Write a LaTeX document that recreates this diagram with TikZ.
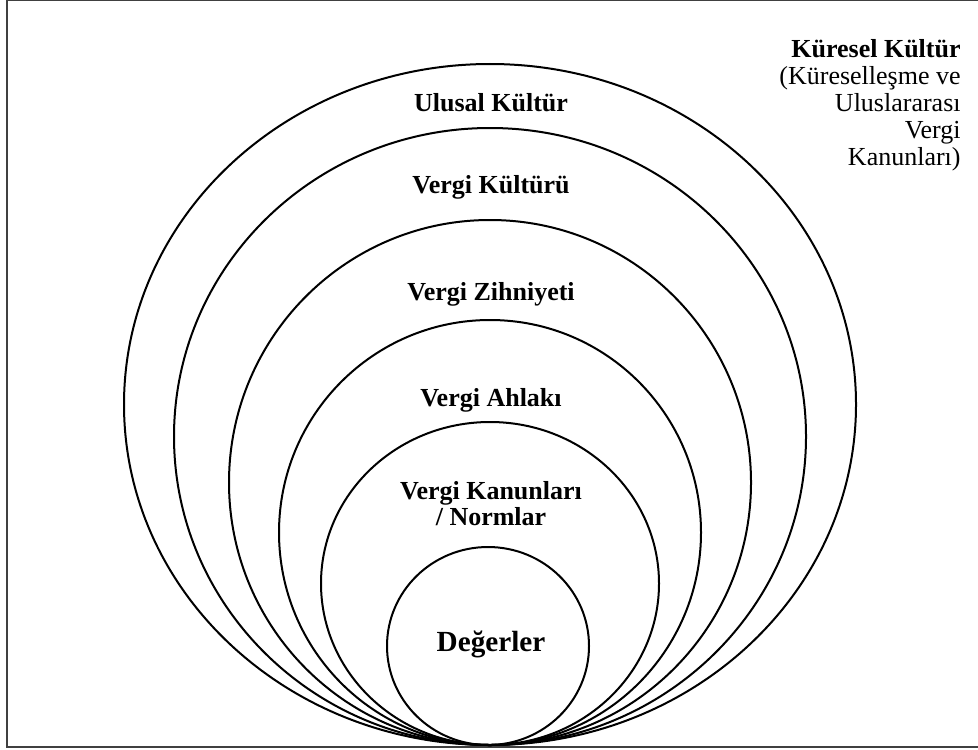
\documentclass[tikz,border=0pt]{standalone}
\usepackage{fontspec}
\setmainfont{Liberation Serif}
\begin{document}
\begin{tikzpicture}[x=0.5pt,y=-0.5pt,
  ring/.style={draw=black, line width=1pt},
  lbl/.style={font=\fontsize{13}{13.5}\selectfont\bfseries, inner sep=0pt, anchor=base, align=center},
  frameline/.style={draw=black!75, line width=0.7pt}]
\useasboundingbox (0,0) rectangle (978,749);
\draw[frameline] (978,0.6) -- (7,0.6) -- (7,747) -- (978,747);
% nested ellipses, all touching at the bottom
\draw[ring] (490,404.5) ellipse [x radius=366, y radius=340.5];
\draw[ring] (490,436.5) ellipse [x radius=316, y radius=308.5];
\draw[ring] (490,482.5) ellipse [x radius=261, y radius=262.5];
\draw[ring] (490,532.5) ellipse [x radius=211, y radius=212.5];
\draw[ring] (490,583.5) ellipse [x radius=169, y radius=161.5];
\draw[ring] (488,646) ellipse [x radius=101, y radius=99];
% labels
\node[lbl] (ulusal) at (491,112) {Ulusal Kültür};
\node[lbl] (vkultur) at (491,193) {Vergi Kültürü};
\node[lbl] (zihniyet) at (491,300) {Vergi Zihniyeti};
\node[lbl] (ahlak) at (491,406) {Vergi Ahlakı};
\node[lbl] (kanun) at (491,499) {Vergi Kanunları};
\node[lbl] (norm) at (491,525) {/ Normlar};
\node[lbl, font=\fontsize{14.6}{16}\selectfont\bfseries] (deger) at (491,651) {Değerler};
\node[inner sep=0pt, anchor=north east, align=right, font=\fontsize{13}{13.5}\selectfont] (kuresel) at (961,39)
  {\textbf{Küresel Kültür}\\(Küreselleşme ve\\Uluslararası\\Vergi\\Kanunları)};
\end{tikzpicture}
\end{document}
